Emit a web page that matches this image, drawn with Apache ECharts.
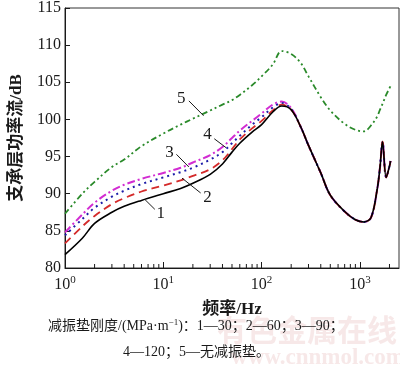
<!DOCTYPE html>
<html><head><meta charset="utf-8">
<script src="https://cdn.jsdelivr.net/npm/echarts@6/dist/echarts.min.js"></script>
<style>html,body{margin:0;padding:0;background:#fff}#c{width:400px;height:367px}</style>
</head><body><div id="c"></div>
<script>
// ---- data (Hz, dB) ----
const freqs  = [1,1.5,2,3,4,6,10,15,20,30,40,50,60,80,100,130,160,200,250,300,400,500,700,900,1100,1300,1500,1600,1700,1850,2000,2050];
const tail   = [99.0,96.5,92.8,89.8,87.6,86.5,86.2,86.8,90.6,93.5,97.0,92.2,93.7,94.4];
const curve1 = [81.8,84.0,86.0,87.5,88.3,89.1,90.0,90.7,91.4,92.6,94.0,95.6,96.8,98.3,99.3,101.0,101.8,101.3].concat(tail); // 30
const curve2 = [83.3,85.6,87.0,88.6,89.4,90.3,91.1,91.8,92.4,93.3,94.5,96.0,97.3,98.8,99.8,101.2,102.0,101.3].concat(tail); // 60
const curve3 = [84.4,86.6,88.1,89.6,90.4,91.3,92.2,92.9,93.5,94.6,95.6,96.8,97.8,99.3,100.3,101.6,102.2,101.4].concat(tail); // 90
const curve4 = [84.8,87.2,88.8,90.4,91.2,92.0,92.8,93.5,94.2,95.2,96.3,97.5,98.5,99.8,100.8,102.0,102.4,101.5].concat(tail); // 120
const curve5 = [87.3,90.0,91.6,93.6,94.6,96.4,98.1,99.3,100.1,101.2,102.0,102.6,103.3,104.6,105.8,107.4,109.2,108.8,107.6,105.8,103.0,101.2,99.4,98.6,98.4,99.2,100.4,101.3,102.1,103.3,104.2,104.5]; // no pad
const minorTicks = [2,3,4,5,6,7,8,9,20,30,40,50,60,70,80,90,200,300,400,500,600,700,800,900,2000];
const curveLabels = ['1','2','3','4','5'];
// annotation anchors in data coords: text position, leader line start, end
const annText = [[9.4,87.3],[28.2,89.5],[11.55,95.6],[28.2,98.0],[15.2,102.8]];
const annLine = [[[6.52,89.2],[8.2,87.9]],[[15.5,92.1],[24.0,90.1]],[[13.6,95.3],[18.2,93.6]],[[33.0,97.4],[43.5,96.2]],[[18.2,102.5],[25.7,100.5]]];
const xTitle = '频率/Hz';
const yTitle = '支承层功率流/dB';
const caption1 = '减振垫刚度/(MPa·m{s|−1})：1—30；2—60；3—90；';
const caption2 = '4—120；5—无减振垫。';

const serif = '"Liberation Serif","Times New Roman","Noto Sans CJK SC",serif';
const ink = '#1a1a1a';
const pairs = arr => freqs.map((f, i) => [f, arr[i]]);

const chart = echarts.init(document.getElementById('c'), null, {renderer: 'canvas'});
function mk(name, arr, color, type, w) {
  return {name, type: 'line', data: pairs(arr), smooth: 0.35, symbol: 'none',
    lineStyle: {color, width: w, type}, animation: false};
}
chart.setOption({
  animation: false,
  grid: {left: 57, right: 1, top: 4, bottom: 99, show: true, borderColor: '#333', borderWidth: 1},
  xAxis: {
    type: 'log', logBase: 10, min: 1, max: 2500,
    axisLine: {lineStyle: {color: ink, width: 1}},
    axisTick: {inside: true, length: 6, lineStyle: {color: ink}},
    splitLine: {show: false},
    axisLabel: {
      showMaxLabel: false, margin: 7, color: ink,
      formatter: v => { const e = Math.log10(v); if (Math.abs(e - Math.round(e)) > 1e-6) return ''; return '{b|10}{s|' + Math.round(e) + '}'; },
      rich: {b: {fontSize: 16, fontFamily: serif, color: ink}, s: {fontSize: 11, fontFamily: serif, color: ink, padding: [0, 0, 8, 0]}}
    },
    name: xTitle, nameLocation: 'middle', nameGap: 33,
    nameTextStyle: {fontFamily: serif, fontSize: 17, fontWeight: 'bold', color: ink}
  },
  yAxis: {
    type: 'value', min: 80, max: 115, interval: 5,
    axisLine: {show: true, lineStyle: {color: ink, width: 1}},
    axisTick: {show: true, inside: true, length: 5, lineStyle: {color: ink}},
    splitLine: {show: false},
    axisLabel: {fontFamily: serif, fontSize: 16, color: ink, margin: 4},
    name: yTitle, nameLocation: 'middle', nameGap: 40, nameRotate: 90,
    nameTextStyle: {fontFamily: serif, fontSize: 17, fontWeight: 'bold', color: ink}
  },
  series: [
    mk('5', curve5, '#2a8a2a', [6, 3, 2, 3, 2, 3], 1.8),
    mk('4', curve4, '#d22cd2', [8, 3, 2, 3], 2),
    mk('3', curve3, '#1c1ca8', [2, 4], 2),
    mk('2', curve2, '#d42a2a', [8, 5], 1.8),
    mk('1', curve1, '#000000', 'solid', 1.6)
  ]
});

const P = (f, v) => chart.convertToPixel({gridIndex: 0}, [f, v]);
const g = [];
minorTicks.forEach(f => {
  const p = P(f, 80);
  g.push({type: 'line', shape: {x1: p[0], y1: p[1], x2: p[0], y2: p[1] - 4}, style: {stroke: ink, lineWidth: 1}, z: 10});
});
curveLabels.forEach((t, i) => {
  const a = P(annLine[i][0][0], annLine[i][0][1]);
  const b = P(annLine[i][1][0], annLine[i][1][1]);
  g.push({type: 'line', shape: {x1: a[0], y1: a[1], x2: b[0], y2: b[1]}, style: {stroke: ink, lineWidth: 1}, z: 10});
  const c = P(annText[i][0], annText[i][1]);
  g.push({type: 'text', x: c[0], y: c[1], style: {text: t, fill: ink, font: '17px ' + serif, textAlign: 'center', textVerticalAlign: 'middle'}, z: 10});
});
// watermark
g.push({type: 'text', x: 307, y: 330, z: 1, style: {text: '有色金属在线', fill: 'rgba(225,165,165,0.25)', font: 'bold 30px "Noto Sans CJK SC"', textAlign: 'center', textVerticalAlign: 'middle'}});
g.push({type: 'text', x: 318, y: 358, z: 1, style: {text: 'www.cnnmol.com', fill: 'rgba(225,165,165,0.25)', font: 'bold 23px ' + serif, textAlign: 'center', textVerticalAlign: 'middle'}});
// caption
g.push({type: 'text', x: 48, y: 326, z: 5, style: {text: caption1, fill: ink, font: '14px ' + serif, textVerticalAlign: 'middle',
  rich: {s: {fontSize: 9, fontFamily: serif, fill: ink, padding: [0, 0, 7, 0]}}}});
g.push({type: 'text', x: 123, y: 352, z: 5, style: {text: caption2, fill: ink, font: '14px ' + serif, textVerticalAlign: 'middle'}});
chart.setOption({graphic: g});
</script></body></html>
